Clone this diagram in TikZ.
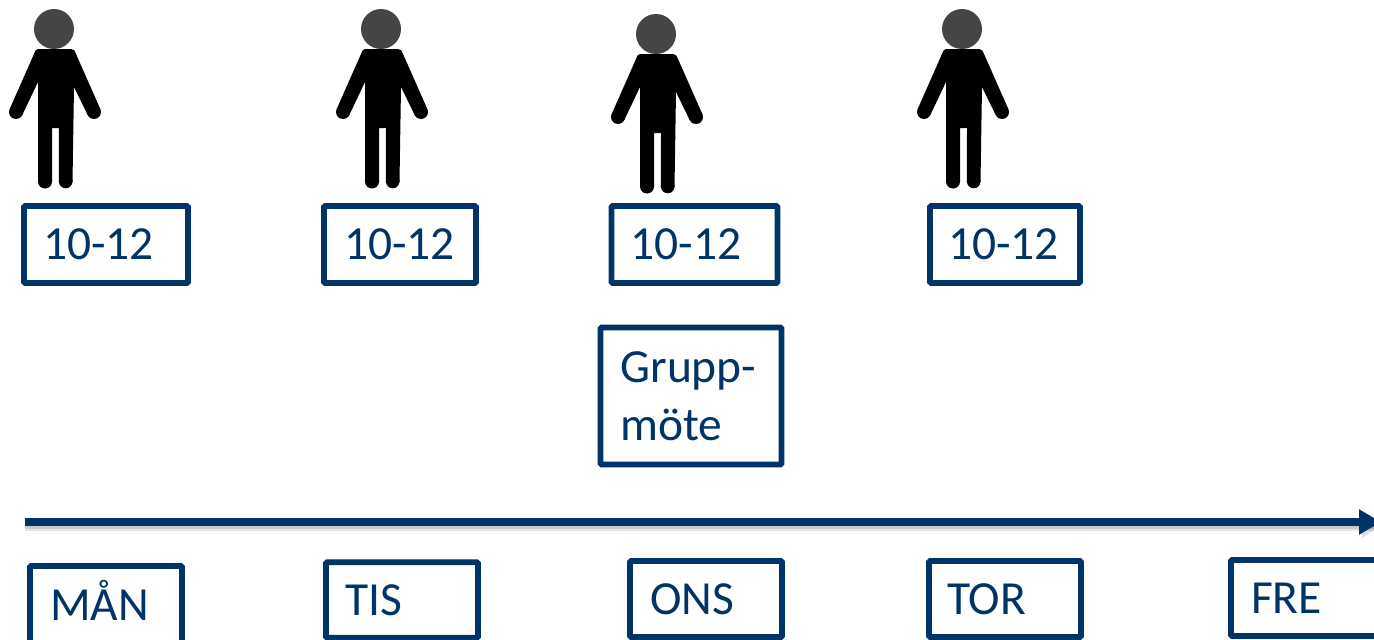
\documentclass[tikz,border=0pt]{standalone}
\usepackage{fontspec}
\setmainfont{Carlito}
\usetikzlibrary{arrows.meta}
\definecolor{navy}{HTML}{003366}
\definecolor{headgrey}{HTML}{454545}
\tikzset{
  x=1pt,y=-1pt,
  daybox/.style={draw=navy,line width=5.6pt,rounded corners=1pt,fill=white,text=navy,
    font=\fontsize{47.5}{58}\selectfont,align=left,anchor=center,
    minimum height=#1,inner ysep=0pt,outer sep=0pt},
  person/.pic={
    \fill[black]
      (38,49) -- (71,49) .. controls (74,49) and (75,51) .. (76,54)
      -- (100.3,109) -- (87.7,115) -- (74,87) -- (72.5,182) -- (58.9,182)
      -- (59,128) -- (52,128) -- (52,182) -- (38,182) -- (38,82)
      -- (22.3,115) -- (9.7,109) -- (34,54) .. controls (35,51) and (36,49) .. (38,49) -- cycle;
    \fill[black] (94,112) circle[radius=7];
    \fill[black] (16,112) circle[radius=7];
    \fill[black] (45,181.5) circle[radius=7];
    \fill[black] (65.7,181.5) circle[radius=6.8];
    \fill[headgrey] (54,29) circle[radius=20];
  }
}
\begin{document}
\begin{tikzpicture}
\useasboundingbox (0,0) rectangle (1374,640);
\clip (0,0) rectangle (1374,640);
\pic at (0,0) {person};
\pic at (327,0) {person};
\pic at (602,5) {person};
\pic at (908,0) {person};
\node[daybox=77pt,text width=126pt,inner xsep=19pt] (a1) at (106,244.5) {10-12};
\node[daybox=77pt,text width=112pt,inner xsep=20pt] (a2) at (400,244.5) {10-12};
\node[daybox=77pt,text width=128pt,inner xsep=19pt] (a3) at (694.5,244.5) {10-12};
\node[daybox=77pt,text width=114pt,inner xsep=18pt] (a4) at (1005,244.5) {10-12};
\node[daybox=137pt,text width=141pt,inner xsep=20pt] (g) at (691,396) {Grupp-\\möte};
\coordinate (s) at (25,522);
\coordinate (e) at (1381,522);
\draw[black,opacity=.10,line width=9pt] ([yshift=-4pt]s) -- ([yshift=-4pt]e);
\draw[black,opacity=.12,line width=6pt] ([yshift=-4pt]s) -- ([yshift=-4pt]e);
\fill[black,opacity=.12] (1362,513) -- (1381,526) -- (1362,538) -- cycle;
\draw[navy,line width=8pt,-{Triangle[length=22pt,width=24pt]}] (s) -- (e);
\node[daybox=78pt,text width=112pt,inner xsep=20pt,text height=40pt,text depth=10pt] (m) at (106,605) {MÅN};
\node[daybox=75.5pt,text width=114pt,inner xsep=19pt] (t) at (402,600) {TIS};
\node[daybox=76pt,text width=112pt,inner xsep=20pt] (o) at (706,599) {ONS};
\node[daybox=76pt,text width=116pt,inner xsep=18pt] (d) at (1005,599) {TOR};
\node[daybox=76pt,text width=112pt,inner xsep=20pt] (f) at (1307,598) {FRE};
\end{tikzpicture}
\end{document}
